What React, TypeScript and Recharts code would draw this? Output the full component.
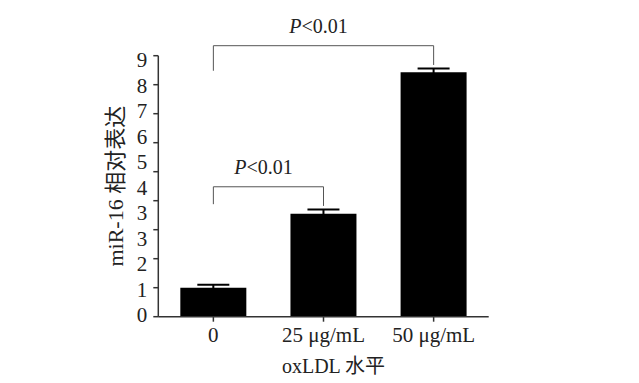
import React from 'react';
import { ComposedChart, Bar, Line, XAxis, YAxis, ErrorBar, ReferenceLine } from 'recharts';

const categories = ['0', '25 μg/mL', '50 μg/mL'];
const means = [1.0, 3.55, 8.43];
const errors = [0.1, 0.15, 0.13];
const yTicks = [0, 1, 2, 3, 4, 5, 6, 7, 8, 9];
const yLabelTicks = [0, 1, 2, 3, 4, 5, 6, 7, 8, 9, 10];
const yTickLabels = ['0', '1', '2', '3', '3', '4', '5', '6', '7', '8', '9'];
const bracketFrom = ['0', '0'];
const bracketTo = ['25 μg/mL', '50 μg/mL'];
const bracketTop = [4.48, 9.345];
const bracketFromBottom = [3.88, 8.48];
const bracketToBottom = [3.82, 8.68];
const bracketText = ['<0.01', '<0.01'];

const data = categories.map((c, i) => ({ name: c, value: means[i], err: errors[i] }));

const FONT = '"Liberation Serif", "Times New Roman", "Noto Sans CJK SC", serif';
const TEXT = '#222';

const PLabel = (props: any) => {
  const vb = props.viewBox || {};
  const x = (vb.x ?? 0) + (vb.width ?? 0) / 2 - 5;
  const y = (vb.y ?? 0) - 13;
  return (
    <text x={x} y={y} textAnchor="middle" fontFamily={FONT} fontSize={20} fill={TEXT}>
      <tspan fontStyle="italic">P</tspan>
      {props.txt}
    </text>
  );
};

export default function App() {
  return (
    <div style={{ position: 'absolute', left: 0, top: 0, background: '#fff' }}>
      <ComposedChart
        width={639}
        height={383}
        data={data}
        margin={{ top: 55.7, right: 150.3, bottom: 0, left: 0 }}
        barCategoryGap="20%"
      >
        <XAxis
          dataKey="name"
          height={66.3}
          tickSize={5}
          tickMargin={5}
          axisLine={{ stroke: '#333', strokeWidth: 1.5 }}
          tickLine={{ stroke: '#333', strokeWidth: 1.5 }}
          tick={{ fontFamily: FONT, fontSize: 21, fill: TEXT }}
          label={{
            value: 'oxLDL 水平',
            position: 'insideBottom',
            offset: 10,
            dx: 10,
            style: { fontFamily: FONT, fontSize: 20, fill: TEXT },
          }}
        />
        <YAxis
          yAxisId="a"
          width={10}
          type="number"
          domain={[0, 9]}
          ticks={yTicks}
          interval={0}
          tickSize={5}
          tickFormatter={() => ''}
          axisLine={{ stroke: '#333', strokeWidth: 1.5 }}
          tickLine={{ stroke: '#333', strokeWidth: 1.5 }}
        />
        <YAxis
          yAxisId="b"
          width={148.3}
          type="number"
          domain={[-0.067, 10.168]}
          allowDataOverflow
          ticks={yLabelTicks}
          interval={0}
          tickSize={0}
          tickMargin={1}
          axisLine={false}
          tickLine={false}
          tickFormatter={(v: number) => yTickLabels[v] ?? ''}
          tick={{ fontFamily: FONT, fontSize: 21, fill: TEXT }}
          label={{
            value: 'miR-16 相对表达',
            angle: -90,
            position: 'insideLeft',
            offset: 120,
            dx: -5,
            style: { fontFamily: FONT, fontSize: 22, fill: TEXT, textAnchor: 'middle' },
          }}
        />
        <Bar yAxisId="a" dataKey="value" fill="#000" isAnimationActive={false}>
          <ErrorBar dataKey="err" width={16} stroke="#000" strokeWidth={2} direction="y" />
        </Bar>
        <Line yAxisId="b" dataKey="none" stroke="none" dot={false} activeDot={false} isAnimationActive={false} legendType="none" />
        {bracketFrom.map((f, i) => (
          <ReferenceLine
            key={'l' + i}
            yAxisId="a"
            ifOverflow="visible"
            stroke="#555"
            strokeWidth={1}
            segment={[{ x: f, y: bracketFromBottom[i] }, { x: f, y: bracketTop[i] }]}
          />
        ))}
        {bracketFrom.map((f, i) => (
          <ReferenceLine
            key={'r' + i}
            yAxisId="a"
            ifOverflow="visible"
            stroke="#555"
            strokeWidth={1}
            segment={[{ x: bracketTo[i], y: bracketToBottom[i] }, { x: bracketTo[i], y: bracketTop[i] }]}
          />
        ))}
        {bracketFrom.map((f, i) => (
          <ReferenceLine
            key={'h' + i}
            yAxisId="a"
            ifOverflow="visible"
            stroke="#555"
            strokeWidth={1}
            segment={[{ x: f, y: bracketTop[i] }, { x: bracketTo[i], y: bracketTop[i] }]}
            label={<PLabel txt={bracketText[i]} />}
          />
        ))}
      </ComposedChart>
    </div>
  );
}
